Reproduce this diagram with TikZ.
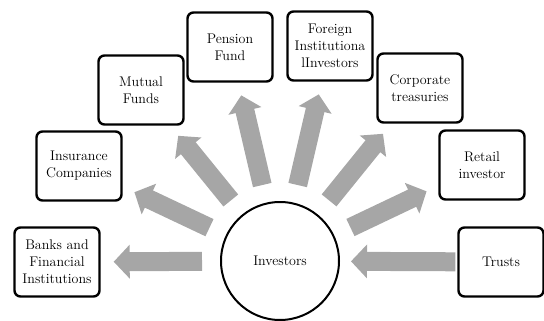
\documentclass[tikz,border=0pt]{standalone}
\usepackage{tikz}
\usetikzlibrary{arrows.meta, shapes.geometric}
\tikzstyle{party} = [draw=black, line width=2.4pt, rounded corners=6pt, minimum width=85pt, minimum height=69pt, align=center, inner sep=2pt, font=\fontsize{14}{17}\selectfont]
\tikzstyle{hub} = [circle, draw=black, line width=2pt, minimum size=118pt, font=\fontsize{14}{17}\selectfont]
\tikzstyle{bigarrow} = [draw=black!35, line width=19pt, -{Triangle[width=33pt, length=16pt]}]

\begin{document}
\begin{tikzpicture}[x=1pt, y=-1pt]
    \useasboundingbox (0,0) rectangle (544,321);
    \node[hub] (inv) at (280,261) {Investors};
    \node[party] (banks) at (57,262) {Banks and\\Financial\\Institutions};
    \node[party] (insur) at (79,166) {Insurance\\Companies};
    \node[party] (mutual) at (141,90) {Mutual\\Funds};
    \node[party] (pension) at (230,47) {Pension\\Fund};
    \node[party] (foreign) at (330,46) {Foreign\\Institutiona\\lInvestors};
    \node[party] (corp) at (420,88) {Corporate\\treasuries};
    \node[party] (retail) at (482,165) {Retail\\investor};
    \node[party] (trusts) at (501,262) {Trusts};
    % arrows out of the circle
    \foreach \target in {banks, insur, mutual, pension, foreign, corp, retail}
        \draw[bigarrow, shorten <=18pt, shorten >=13pt] (inv) -- (\target);
    \draw[bigarrow, shorten <=2pt, shorten >=11pt] (trusts) -- (inv);
\end{tikzpicture}
\end{document}
